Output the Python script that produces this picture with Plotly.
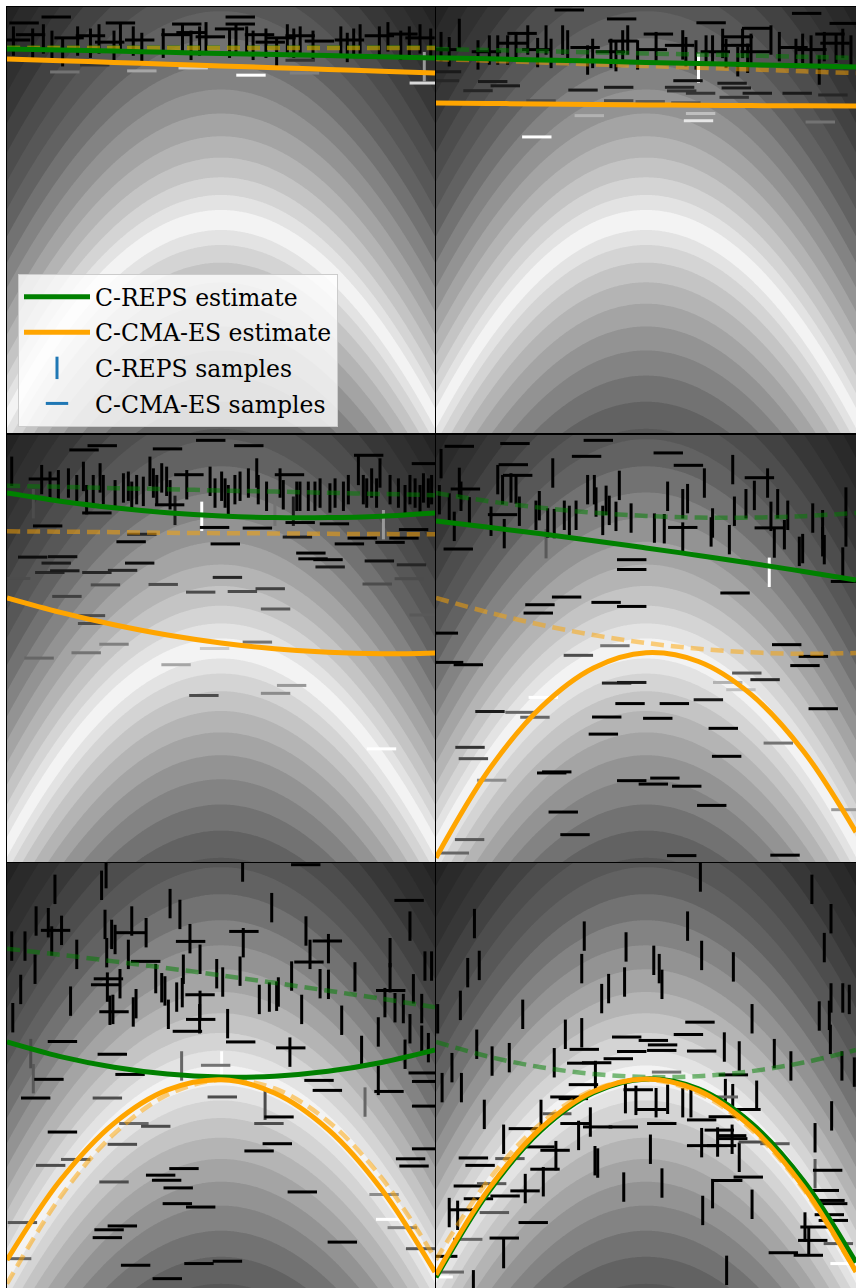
import numpy as np
import plotly.graph_objects as go

# ---------------- data ----------------
# x positions at which the estimated policy curves were read off the picture
CURVE_X = [-1.0, -0.75, -0.5, -0.25, 0.0, 0.25, 0.5, 0.75, 1.0]

INIT_REPS_EST = [0.81, 0.81, 0.81, 0.81, 0.81, 0.81, 0.81, 0.81, 0.81]
INIT_CMAES_EST = [0.808, 0.808, 0.808, 0.808, 0.808, 0.808, 0.808, 0.808, 0.808]

REPS_EST_1 = [0.803, 0.798, 0.793, 0.787, 0.782, 0.777, 0.772, 0.766, 0.761]
CMAES_EST_1 = [0.756, 0.748, 0.740, 0.731, 0.723, 0.715, 0.707, 0.698, 0.690]
REPS_EST_2 = [0.762, 0.757, 0.751, 0.746, 0.740, 0.735, 0.729, 0.724, 0.718]
CMAES_EST_2 = [0.549, 0.547, 0.545, 0.542, 0.540, 0.539, 0.537, 0.536, 0.535]
REPS_EST_3 = [0.728, 0.690, 0.659, 0.636, 0.621, 0.613, 0.613, 0.620, 0.635]
CMAES_EST_3 = [0.237, 0.169, 0.111, 0.063, 0.026, -0.001, -0.018, -0.025, -0.021]
REPS_EST_4 = [0.597, 0.568, 0.537, 0.505, 0.471, 0.436, 0.399, 0.361, 0.321]
CMAES_EST_4 = [-0.980, -0.571, -0.275, -0.091, -0.020, -0.061, -0.215, -0.481, -0.860]
REPS_EST_5 = [0.158, 0.089, 0.039, 0.007, -0.007, -0.003, 0.020, 0.061, 0.120]
CMAES_EST_5 = [-0.868, -0.492, -0.225, -0.068, -0.020, -0.082, -0.253, -0.535, -0.925]
REPS_EST_6 = [-0.950, -0.548, -0.258, -0.081, -0.016, -0.063, -0.223, -0.495, -0.880]
CMAES_EST_6 = [-0.938, -0.536, -0.248, -0.075, -0.016, -0.071, -0.241, -0.525, -0.924]

# samples: (context, parameter, shade 0=black .. 1=white)
REPS_SAMPLES_1 = [
    (-0.97, 0.84, 0), (-0.88, 0.83, 0), (-0.83, 0.85, 0), (-0.79, 0.82, 0), (-0.74, 0.79, 0),
    (-0.67, 0.84, 0), (-0.61, 0.83, 0), (-0.57, 0.85, 0), (-0.50, 0.82, 0), (-0.47, 0.86, 0),
    (-0.41, 0.84, 0), (-0.37, 0.81, 0), (-0.27, 0.83, 0), (-0.18, 0.85, 0), (-0.14, 0.82, 0),
    (-0.10, 0.84, 0), (-0.07, 0.86, 0), (0.04, 0.83, 0), (0.07, 0.85, 0), (0.12, 0.84, 0),
    (0.15, 0.82, 0), (0.21, 0.83, 0), (0.26, 0.79, 0), (0.31, 0.85, 0), (0.34, 0.83, 0),
    (0.37, 0.84, 0), (0.43, 0.82, 0), (0.56, 0.84, 0), (0.59, 0.81, 0), (0.62, 0.83, 0),
    (0.65, 0.85, 0), (0.74, 0.84, 0), (0.78, 0.86, 0), (0.84, 0.82, 0), (0.88, 0.84, 0),
    (0.93, 0.85, 0), (0.98, 0.83, 0), (0.95, 0.72, 0.6),
]
CMAES_SAMPLES_1 = [
    (-0.77, 0.953, 0), (-0.92, 0.925, 0), (-0.47, 0.925, 0), (-0.16, 0.92, 0), (0.09, 0.953, 0),
    (0.09, 0.92, 0), (0.04, 0.897, 0), (0.85, 0.873, 0), (-0.89, 0.87, 0), (-0.71, 0.855, 0),
    (-0.61, 0.865, 0), (-0.38, 0.845, 0), (-0.14, 0.88, 0), (-0.05, 0.86, 0), (0.18, 0.87, 0),
    (0.28, 0.855, 0), (0.37, 0.865, 0), (0.46, 0.84, 0), (0.60, 0.845, 0), (0.93, 0.855, 0),
    (-0.96, 0.845, 0), (-0.52, 0.835, 0), (-0.21, 0.87, 0), (0.23, 0.835, 0), (0.74, 0.865, 0),
    (-0.73, 0.695, 0.45), (-0.37, 0.70, 0.65), (-0.13, 0.714, 0.8), (0.14, 0.68, 1.0),
    (0.39, 0.69, 0.5), (0.95, 0.643, 0.85), (-0.59, 0.728, 0.2), (0.37, 0.75, 0.2),
]
REPS_SAMPLES_2 = [
    (-0.976, 0.814, 0), (-0.937, 0.79, 0), (-0.889, 0.876, 0), (-0.80, 0.775, 0), (-0.746, 0.798, 0),
    (-0.706, 0.798, 0), (-0.659, 0.798, 0), (-0.619, 0.814, 0), (-0.563, 0.845, 0), (-0.516, 0.786, 0),
    (-0.476, 0.845, 0), (-0.452, 0.782, 0), (-0.397, 0.845, 0), (-0.373, 0.822, 0), (-0.278, 0.751, 0),
    (-0.254, 0.782, 0), (-0.167, 0.782, 0), (-0.143, 0.767, 0), (-0.111, 0.822, 0), (-0.087, 0.845, 0),
    (-0.04, 0.775, 0), (0.048, 0.814, 0), (0.175, 0.822, 0), (0.19, 0.79, 0), (0.238, 0.775, 0),
    (0.286, 0.798, 0), (0.317, 0.798, 0), (0.365, 0.829, 0), (0.381, 0.782, 0), (0.437, 0.743, 0),
    (0.46, 0.829, 0), (0.484, 0.759, 0), (0.5, 0.806, 0), (0.595, 0.845, 0), (0.635, 0.814, 0),
    (0.714, 0.782, 0), (0.746, 0.806, 0), (0.786, 0.798, 0), (0.825, 0.704, 0), (0.849, 0.814, 0),
    (0.905, 0.806, 0), (0.937, 0.829, 0), (0.976, 0.798, 0), (0.25, 0.712, 1.0),
]
CMAES_SAMPLES_2 = [
    (-0.365, 0.986, 0), (-0.116, 0.944, 0), (0.31, 0.926, 0), (0.765, 0.97, 0), (0.944, 0.923, 0),
    (0.527, 0.90, 0), (0.059, 0.873, 0), (-0.59, 0.876, 0), (0.876, 0.873, 0), (0.44, 0.86, 0),
    (-0.97, 0.80, 0), (-0.76, 0.79, 0), (-0.63, 0.83, 0), (-0.52, 0.80, 0), (-0.29, 0.81, 0),
    (-0.17, 0.79, 0), (-0.11, 0.84, 0), (0.03, 0.80, 0), (0.16, 0.82, 0), (0.33, 0.79, 0),
    (0.43, 0.82, 0), (0.52, 0.79, 0), (0.70, 0.81, 0), (0.79, 0.80, 0), (0.90, 0.83, 0),
    (-0.95, 0.696, 0.1), (-0.96, 0.654, 0.15), (-0.73, 0.65, 0.1), (-0.80, 0.607, 0.15),
    (-0.67, 0.63, 0.1), (-0.30, 0.61, 0.1), (-0.13, 0.623, 0.1), (0.16, 0.623, 0.15),
    (0.17, 0.606, 0.2), (0.26, 0.595, 0.2), (0.20, 0.654, 0.05), (0.41, 0.642, 0.1),
    (0.43, 0.62, 0.1), (0.53, 0.595, 0.1), (0.42, 0.576, 0.2), (0.72, 0.595, 0.1),
    (0.89, 0.587, 0.15), (-0.5, 0.56, 0.3), (-0.13, 0.56, 0.3), (0.02, 0.556, 0.35),
    (0.19, 0.55, 0.3), (-0.27, 0.49, 0.7), (0.26, 0.50, 0.75), (0.25, 0.466, 0.9),
    (-0.52, 0.39, 1.0), (0.83, 0.46, 0.45),
]
REPS_SAMPLES_3 = [
    (-0.978, 0.83, 0), (-0.877, 0.678, 0.3), (-0.838, 0.791, 0), (-0.799, 0.76, 0), (-0.76, 0.767, 0),
    (-0.713, 0.775, 0), (-0.674, 0.744, 0), (-0.643, 0.806, 0), (-0.628, 0.697, 0), (-0.597, 0.744, 0),
    (-0.565, 0.799, 0), (-0.55, 0.744, 0), (-0.495, 0.72, 0), (-0.456, 0.752, 0), (-0.433, 0.76, 0),
    (-0.417, 0.713, 0), (-0.394, 0.744, 0), (-0.363, 0.736, 0), (-0.332, 0.83, 0), (-0.316, 0.775, 0),
    (-0.30, 0.744, 0), (-0.277, 0.799, 0), (-0.254, 0.783, 0), (-0.238, 0.72, 0), (-0.215, 0.647, 0.1),
    (-0.16, 0.767, 0), (-0.09, 0.619, 1.0), (-0.051, 0.783, 0), (-0.028, 0.728, 0), (0.003, 0.76, 0),
    (0.019, 0.728, 0), (0.034, 0.697, 0), (0.065, 0.744, 0), (0.089, 0.76, 0), (0.128, 0.775, 0),
    (0.167, 0.822, 0), (0.174, 0.744, 0), (0.213, 0.713, 0), (0.252, 0.643, 0.45), (0.276, 0.775, 0),
    (0.291, 0.72, 0), (0.338, 0.643, 0.1), (0.354, 0.713, 0), (0.369, 0.713, 0), (0.408, 0.713, 0),
    (0.439, 0.713, 0), (0.463, 0.728, 0), (0.509, 0.705, 0), (0.533, 0.728, 0), (0.572, 0.713, 0),
    (0.595, 0.744, 0), (0.642, 0.834, 0), (0.665, 0.744, 0), (0.681, 0.728, 0), (0.704, 0.775, 0),
    (0.727, 0.728, 0), (0.743, 0.822, 0), (0.759, 0.58, 0.6), (0.79, 0.744, 0), (0.829, 0.728, 0),
    (0.86, 0.697, 0), (0.883, 0.744, 0), (0.907, 0.728, 0), (0.93, 0.697, 0), (0.946, 0.752, 0),
    (0.969, 0.728, 0), (0.984, 0.744, 0),
]
CMAES_SAMPLES_3 = [
    (-0.048, 0.975, 0), (-0.555, 0.95, 0), (-0.64, 0.93, 0), (-0.25, 0.935, 0), (0.13, 0.95, 0),
    (0.69, 0.905, 0), (0.96, 0.866, 0), (-0.15, 0.814, 0), (0.32, 0.814, 0), (-0.83, 0.794, 0),
    (-0.24, 0.673, 0), (-0.58, 0.635, 0), (-0.03, 0.567, 0), (0.17, 0.564, 0), (0.37, 0.59, 0),
    (0.53, 0.584, 0), (0.90, 0.557, 0), (-0.81, 0.574, 0), (-0.37, 0.535, 0.15), (-0.42, 0.50, 0),
    (0.02, 0.49, 0), (0.60, 0.49, 0), (0.66, 0.517, 0), (0.79, 0.497, 0), (0.855, 0.517, 0),
    (0.357, 0.522, 0.1), (0.42, 0.447, 0), (0.43, 0.42, 0), (0.50, 0.416, 0), (0.51, 0.382, 0.1),
    (0.74, 0.41, 0.05), (0.89, 0.392, 0.15), (0.88, 0.327, 0.3), (-0.88, 0.428, 0.05),
    (-0.74, 0.43, 0.05), (-0.77, 0.40, 0.1), (-0.38, 0.40, 0.05), (-0.46, 0.366, 0.15),
    (-0.80, 0.356, 0.15), (-0.73, 0.364, 0.1), (-0.58, 0.356, 0.15), (-0.96, 0.328, 0.3),
    (-0.54, 0.298, 0.3), (-0.27, 0.30, 0.3), (0.03, 0.333, 0.15), (-0.095, 0.264, 0.3),
    (0.10, 0.267, 0.3), (0.23, 0.28, 0.25), (0.73, 0.302, 0.3), (-0.72, 0.244, 0.25),
    (0.255, 0.185, 0.35), (0.95, 0.157, 0.35), (-0.61, 0.154, 0.3), (-0.60, 0.117, 0.3),
    (-0.50, 0.02, 0.5), (-0.63, -0.02, 0.45), (-0.85, -0.045, 0.4), (-0.21, -0.076, 0.65),
    (-0.03, 0.0, 0.8), (0.17, 0.03, 0.45), (0.33, -0.173, 0.6), (0.255, -0.21, 0.55),
    (-0.08, -0.22, 0.3), (0.75, -0.47, 1.0),
]
REPS_SAMPLES_4 = [
    (-0.976, 0.866, 0), (-0.984, 0.697, 0), (-0.937, 0.658, 0), (-0.913, 0.572, 0), (-0.889, 0.778, 0),
    (-0.881, 0.713, 0), (-0.841, 0.64, 0), (-0.738, 0.596, 0), (-0.706, 0.791, 0), (-0.683, 0.744, 0),
    (-0.675, 0.538, 0), (-0.643, 0.752, 0), (-0.619, 0.747, 0), (-0.603, 0.643, 0), (-0.524, 0.624, 0),
    (-0.508, 0.669, 0), (-0.476, 0.491, 0.35), (-0.468, 0.588, 0), (-0.444, 0.822, 0), (-0.437, 0.585, 0),
    (-0.389, 0.624, 0), (-0.365, 0.60, 0), (-0.333, 0.624, 0), (-0.278, 0.744, 0), (-0.246, 0.744, 0),
    (-0.238, 0.686, 0), (-0.206, 0.60, 0), (-0.19, 0.694, 0), (-0.175, 0.647, 0), (-0.143, 0.619, 0),
    (-0.127, 0.764, 0), (-0.071, 0.611, 0), (0.04, 0.564, 0), (0.087, 0.561, 0), (0.103, 0.713, 0),
    (0.175, 0.678, 0), (0.175, 0.522, 0), (0.198, 0.702, 0), (0.278, 0.775, 0), (0.31, 0.546, 0),
    (0.317, 0.588, 0), (0.397, 0.51, 0), (0.413, 0.838, 0), (0.421, 0.643, 0), (0.476, 0.678, 0),
    (0.516, 0.717, 0), (0.579, 0.775, 0), (0.587, 0.357, 1.0), (0.595, 0.619, 0), (0.611, 0.494, 0),
    (0.627, 0.678, 0), (0.659, 0.533, 0), (0.675, 0.624, 0), (0.73, 0.455, 0), (0.746, 0.468, 0),
    (0.794, 0.611, 0), (0.841, 0.58, 0), (0.841, 0.50, 0), (0.849, 0.463, 0), (0.937, 0.405, 0),
    (0.952, 0.686, 0), (0.952, 0.546, 0),
]
CMAES_SAMPLES_4 = [
    (-0.889, 0.947, 0), (-0.624, 0.96, 0), (-0.227, 0.975, 0), (-0.283, 0.90, 0), (0.106, 0.916, 0),
    (0.202, 0.858, 0), (-0.632, 0.861, 0), (-0.611, 0.811, 0), (-0.86, 0.747, 0), (0.54, 0.80, 0),
    (-0.683, 0.627, 0), (0.587, 0.565, 0), (0.175, 0.567, 0), (0.95, 0.314, 0), (-0.894, 0.466, 0),
    (-0.068, 0.416, 0), (-0.068, 0.37, 0), (0.424, 0.26, 0), (-0.378, 0.241, 0), (-0.505, 0.205, 0),
    (-0.513, 0.166, 0), (-0.19, 0.216, 0), (-0.068, 0.197, 0), (-0.965, 0.072, 0), (-0.94, -0.065, 0),
    (-0.846, -0.076, 0), (-0.148, 0.013, 0.45), (-0.322, -0.032, 0.3), (0.67, 0.018, 0),
    (0.797, -0.037, 0), (0.757, -0.08, 0), (0.48, -0.115, 0.35), (0.567, -0.146, 0.15),
    (0.389, -0.159, 0.7), (0.452, -0.193, 0.75), (-0.14, -0.162, 0.15), (-0.068, -0.159, 0.1),
    (-0.489, -0.229, 1.0), (-0.743, -0.295, 0.1), (-0.6, -0.299, 0.4), (-0.529, -0.322, 0.4),
    (-0.076, -0.258, 0), (0.135, -0.258, 0), (0.297, -0.24, 0.1), (-0.187, -0.321, 0),
    (0.056, -0.327, 0), (0.844, -0.282, 0), (0.368, -0.374, 0), (-0.203, -0.401, 0),
    (0.63, -0.443, 0.45), (-0.838, -0.463, 0.2), (-0.822, -0.516, 0.3), (0.384, -0.505, 0),
    (-0.735, -0.617, 0.55), (-0.449, -0.583, 0), (-0.425, -0.578, 0), (-0.068, -0.619, 0),
    (0.035, -0.635, 0), (0.09, -0.607, 0), (0.194, -0.645, 0), (0.313, -0.735, 0),
    (-0.394, -0.766, 0), (-0.338, -0.872, 0), (-0.84, -0.895, 0.35), (-0.913, -0.958, 0.4),
    (0.17, -0.97, 0), (0.662, -0.968, 0), (0.952, -0.755, 0.6),
]
REPS_SAMPLES_5 = [
    (-0.537, 0.95, 0), (-0.558, 0.895, 0), (-0.776, 0.876, 0), (0.101, 0.981, 0), (-0.238, 0.809, 0),
    (-0.192, 0.758, 0), (0.237, 0.79, 0), (-0.864, 0.727, 0), (-0.807, 0.719, 0), (-0.791, 0.633, 0),
    (-0.745, 0.683, 0), (-0.542, 0.711, 0), (-0.511, 0.664, 0), (-0.495, 0.64, 0), (-0.417, 0.727, 0),
    (-0.35, 0.672, 0), (-0.978, 0.609, 0), (-0.916, 0.609, 0), (-0.674, 0.57, 0), (-0.534, 0.578, 0),
    (-0.433, 0.57, 0), (-0.145, 0.644, 0), (-0.098, 0.547, 0), (-0.176, 0.50, 0), (-0.02, 0.479, 0),
    (0.008, 0.44, 0), (0.089, 0.491, 0), (0.104, 0.625, 0), (0.397, 0.68, 0), (0.416, 0.57, 0),
    (0.502, 0.597, 0), (0.33, 0.468, 0), (0.463, 0.432, 0), (0.502, 0.429, 0), (0.626, 0.464, 0),
    (0.79, 0.578, 0), (0.79, 0.46, 0), (0.883, 0.703, 0), (0.953, 0.515, 0), (0.984, 0.515, 0),
    (0.899, 0.408, 0), (0.766, 0.343, 0), (0.813, 0.319, 0), (0.852, 0.315, 0), (0.938, 0.315, 0),
    (-0.869, 0.50, 0), (-0.936, 0.405, 0), (-0.703, 0.35, 0), (-0.973, 0.272, 0), (-0.531, 0.416, 0),
    (-0.472, 0.432, 0), (-0.519, 0.307, 0), (-0.505, 0.311, 0), (-0.41, 0.299, 0), (-0.397, 0.338, 0),
    (-0.305, 0.456, 0), (-0.277, 0.413, 0), (-0.262, 0.398, 0), (-0.246, 0.288, 0), (-0.207, 0.369, 0),
    (-0.181, 0.39, 0), (-0.098, 0.33, 0), (-0.1, 0.267, 0), (0.031, 0.244, 0), (0.179, 0.358, 0),
    (0.226, 0.369, 0), (0.26, 0.373, 0), (0.268, 0.393, 0), (0.377, 0.311, 0), (0.564, 0.26, 0),
    (0.735, 0.205, 0), (0.657, 0.118, 0), (0.86, 0.10, 0), (0.883, 0.22, 0), (0.938, 0.166, 0),
    (0.969, 0.131, 0), (-0.889, 0.103, 0.3), (-0.877, -0.015, 0.35), (-0.184, 0.045, 0.4),
    (0.003, 0.045, 1.0), (0.322, 0.11, 0), (0.735, -0.023, 0), (0.206, -0.14, 0.3), (0.673, -0.125, 0.4),
]
CMAES_SAMPLES_5 = [
    (0.396, 0.992, 0), (0.879, 0.824, 0), (-0.773, 0.683, 0), (-0.422, 0.672, 0), (0.107, 0.678, 0),
    (-0.142, 0.631, 0), (0.497, 0.633, 0), (-0.352, 0.537, 0), (0.411, 0.534, 0), (-0.539, 0.427, 0),
    (-0.526, 0.455, 0), (-0.098, 0.38, 0), (0.793, 0.40, 0), (-0.5, 0.30, 0), (-0.095, 0.264, 0),
    (-0.157, 0.208, 0), (-0.741, 0.16, 0), (-0.508, 0.10, 0), (0.092, 0.158, 0), (0.326, 0.13, 0),
    (-0.025, 0.048, 0.45), (-0.425, 0.005, 0), (-0.804, -0.018, 0), (0.945, 0.012, 0),
    (0.961, -0.028, 0), (0.458, -0.023, 0), (0.497, -0.07, 0), (0.785, -0.075, 0), (-0.866, -0.106, 0),
    (-0.531, -0.106, 0.3), (0.006, -0.101, 0.3), (0.961, -0.144, 0), (0.271, -0.195, 0),
    (0.224, -0.226, 0.3), (-0.407, -0.226, 0.4), (-0.305, -0.239, 0.3), (-0.461, -0.324, 0.3),
    (0.263, -0.321, 0), (0.178, -0.355, 0), (-0.741, -0.266, 0), (-0.679, -0.395, 0.35),
    (-0.796, -0.423, 0.3), (0.886, -0.392, 0), (0.902, -0.426, 0), (0.961, -0.345, 0),
    (-0.173, -0.438, 0), (-0.282, -0.469, 0), (-0.254, -0.493, 0), (-0.5, -0.501, 0.3),
    (-0.2, -0.529, 0), (0.38, -0.548, 0), (0.762, -0.56, 0.55), (-0.204, -0.603, 0),
    (-0.095, -0.619, 0), (0.793, -0.677, 1.0), (0.847, -0.716, 0.5), (-0.928, -0.692, 0.35),
    (-0.461, -0.708, 0), (-0.523, -0.726, 0), (-0.531, -0.763, 0), (0.567, -0.784, 0),
    (0.933, -0.815, 0.35), (-0.955, -0.862, 0.4), (-0.399, -0.893, 0), (-0.103, -0.885, 0),
    (0.03, -0.874, 0), (-0.251, -0.956, 0),
]
REPS_SAMPLES_6 = [
    (0.259, 0.934, 0), (0.79, 0.876, 0), (-0.817, 0.715, 0), (0.198, 0.703, 0), (0.881, 0.738, 0),
    (-0.294, 0.656, 0), (-0.095, 0.605, 0), (0.849, 0.602, 0), (-0.794, 0.518, 0), (-0.849, 0.484, 0),
    (-0.306, 0.503, 0), (0.037, 0.542, 0), (0.063, 0.503, 0), (0.076, 0.429, 0), (0.265, 0.565, 0),
    (0.416, 0.511, 0), (-0.178, 0.409, 0), (-0.211, 0.362, 0), (-0.102, 0.44, 0), (-0.884, 0.33, 0),
    (-0.992, 0.267, 0), (-0.587, 0.288, 0), (0.505, 0.267, 0), (0.881, 0.365, 0), (0.937, 0.365, 0),
    (0.968, 0.358, 0), (0.873, 0.283, 0), (0.825, 0.28, 0), (0.878, 0.17, 0), (-0.384, 0.194, 0),
    (-0.306, 0.201, 0), (-0.806, 0.147, 0), (-0.924, 0.037, 0), (-0.971, -0.057, 0), (-0.879, -0.057, 0),
    (-0.733, 0.068, 0), (-0.651, 0.084, 0), (-0.437, 0.06, 0), (-0.241, 0.0, 0), (0.373, 0.134, 0),
    (0.444, 0.092, 0), (0.611, 0.103, 0), (0.69, 0.045, 0), (0.933, 0.045, 0), (0.992, 0.016, 0),
    (-0.098, -0.109, 0), (-0.048, -0.117, 0), (0.048, -0.128, 0), (0.103, -0.112, 0), (0.175, -0.128, 0),
    (0.214, -0.128, 0), (0.378, -0.085, 0), (0.413, -0.109, 0), (0.527, -0.093, 0), (-0.77, -0.183, 0),
    (-0.5, -0.183, 0), (-0.678, -0.30, 0), (-0.321, -0.282, 0), (-0.265, -0.219, 0), (0.021, -0.347, 0),
    (0.265, -0.316, 0), (0.341, -0.313, 0), (0.41, -0.30, 0), (0.444, -0.385, 0), (0.884, -0.19, 0),
    (0.805, -0.293, 0), (-0.429, -0.377, 0), (-0.243, -0.401, 0), (-0.23, -0.412, 0), (-0.489, -0.5, 0),
    (-0.575, -0.532, 0), (-0.106, -0.525, 0), (0.076, -0.506, 0), (0.317, -0.556, 0), (0.27, -0.635, 0),
    (0.505, -0.606, 0), (0.805, -0.462, 0.35), (-0.937, -0.645, 0), (-0.897, -0.658, 0), (0.757, -0.713, 0),
    (0.775, -0.779, 0), (-0.678, -0.838, 0), (0.384, -0.917, 0), (-0.822, -0.985, 0),
]
CMAES_SAMPLES_6 = [
    (0.257, 0.251, 0), (-0.092, 0.181, 0), (-0.068, 0.113, 0), (0.035, 0.165, 0), (0.079, 0.144, 0),
    (0.075, 0.118, 0), (0.202, 0.193, 0), (0.265, 0.115, 0), (-0.294, 0.123, 0), (-0.132, 0.079, 0),
    (-0.306, 0.058, 0), (-0.235, 0.06, 0), (-0.298, -0.043, 0), (0.098, 0.016, 0.45), (0.416, 0.003, 0),
    (-0.386, -0.101, 0), (-0.346, -0.109, 0), (-0.037, -0.067, 0), (0.027, -0.16, 0), (0.368, -0.101, 0.4),
    (0.476, -0.16, 0), (0.265, -0.209, 0), (0.368, -0.194, 0), (0.349, -0.257, 0), (0.408, -0.283, 0),
    (0.413, -0.297, 0), (0.511, -0.313, 0.3), (0.614, -0.321, 0.35), (0.265, -0.33, 0), (0.36, -0.33, 0),
    (-0.584, -0.25, 0), (-0.425, -0.18, 0.35), (-0.338, -0.226, 0), (-0.23, -0.242, 0), (-0.108, -0.242, 0),
    (0.075, -0.226, 0), (-0.505, -0.336, 0), (-0.433, -0.352, 0), (-0.822, -0.388, 0), (-0.79, -0.423, 0),
    (-0.648, -0.391, 0.35), (-0.481, -0.441, 0), (-0.846, -0.52, 0), (-0.735, -0.509, 0.35),
    (-0.671, -0.567, 0), (-0.576, -0.543, 0), (-0.798, -0.58, 0), (-0.873, -0.632, 0),
    (-0.722, -0.645, 0.35), (-0.537, -0.692, 0), (-0.675, -0.765, 0), (-0.849, -0.771, 0.4),
    (-0.968, -0.851, 0), (0.389, -0.494, 0), (0.487, -0.478, 0), (0.865, -0.446, 0), (0.849, -0.541, 0),
    (0.876, -0.588, 0), (0.889, -0.603, 0), (0.873, -0.655, 0), (0.892, -0.682, 0), (0.805, -0.713, 0),
    (0.794, -0.776, 0), (0.916, -0.791, 0.35), (0.654, -0.834, 0), (0.773, -0.846, 0),
    (0.948, -0.885, 1.0), (-0.937, -0.925, 0.4), (-0.99, -0.948, 1.0),
]

# reward landscape: optimal parameter follows a parabola in the context
RIDGE_CURVATURE = 0.93
LANDSCAPE_EXPONENT = 0.758
LANDSCAPE_SCALE = 10.15

# ---------------- figure ----------------
W, H = 856, 1288
GREEN = "#008000"
ORANGE = "#FFA500"

col_domains = [[7 / W, 435 / W], [436 / W, 1.0]]
row_domains = [[1 - 433 / H, 1 - 7 / H], [1 - 862 / H, 1 - 435 / H], [0.0, 1 - 863 / H]]

reps_est = [REPS_EST_1, REPS_EST_2, REPS_EST_3, REPS_EST_4, REPS_EST_5, REPS_EST_6]
cmaes_est = [CMAES_EST_1, CMAES_EST_2, CMAES_EST_3, CMAES_EST_4, CMAES_EST_5, CMAES_EST_6]
reps_prev = [INIT_REPS_EST] + reps_est[:-1]
cmaes_prev = [INIT_CMAES_EST] + cmaes_est[:-1]
reps_samples = [REPS_SAMPLES_1, REPS_SAMPLES_2, REPS_SAMPLES_3, REPS_SAMPLES_4, REPS_SAMPLES_5, REPS_SAMPLES_6]
cmaes_samples = [CMAES_SAMPLES_1, CMAES_SAMPLES_2, CMAES_SAMPLES_3, CMAES_SAMPLES_4, CMAES_SAMPLES_5, CMAES_SAMPLES_6]

gx = np.linspace(-1, 1, 261)
gy = np.linspace(-1, 1, 261)
GX, GY = np.meshgrid(gx, gy)
Z = -LANDSCAPE_SCALE * np.abs(GY + RIDGE_CURVATURE * GX ** 2) ** LANDSCAPE_EXPONENT

# grey ramp of the filled contour bands (band 0 at the ridge is brightest)
BAND_GREYS = [[0.0, "rgb(22,22,22)"], [1 / 19, "rgb(28,28,28)"], [5 / 19, "rgb(55,55,55)"],
              [9 / 19, "rgb(98,98,98)"], [14 / 19, "rgb(180,180,180)"], [18 / 19, "rgb(243,243,243)"],
              [1.0, "rgb(250,250,250)"]]


def gray(s):
    v = int(round(255 * s))
    return f"rgb({v},{v},{v})"


fig = go.Figure()
layout_axes = {}
for i in range(6):
    r, c = divmod(i, 2)
    xa = "x" if i == 0 else f"x{i + 1}"
    ya = "y" if i == 0 else f"y{i + 1}"
    xkey = "xaxis" if i == 0 else f"xaxis{i + 1}"
    ykey = "yaxis" if i == 0 else f"yaxis{i + 1}"
    axis_style = dict(range=[-1, 1], showticklabels=False, ticks="", showgrid=False,
                      zeroline=False, showline=True, mirror=True, linecolor="black",
                      linewidth=1, fixedrange=True)
    layout_axes[xkey] = dict(domain=col_domains[c], anchor=ya, **axis_style)
    layout_axes[ykey] = dict(domain=row_domains[r], anchor=xa, **axis_style)

    fig.add_trace(go.Contour(
        x=gx, y=gy, z=Z, xaxis=xa, yaxis=ya, showscale=False, hoverinfo="skip",
        colorscale=BAND_GREYS,
        contours=dict(start=-18, end=0, size=1, coloring="fill"),
        line=dict(width=0),
    ))

    rs = reps_samples[i]
    fig.add_trace(go.Scatter(
        x=[p[0] for p in rs], y=[p[1] for p in rs], xaxis=xa, yaxis=ya, mode="markers",
        showlegend=False, hoverinfo="skip",
        marker=dict(symbol="line-ns", size=21, color=[gray(p[2]) for p in rs],
                    line=dict(width=3, color=[gray(p[2]) for p in rs])),
    ))
    cs = cmaes_samples[i]
    fig.add_trace(go.Scatter(
        x=[p[0] for p in cs], y=[p[1] for p in cs], xaxis=xa, yaxis=ya, mode="markers",
        showlegend=False, hoverinfo="skip",
        marker=dict(symbol="line-ew", size=21, color=[gray(p[2]) for p in cs],
                    line=dict(width=3, color=[gray(p[2]) for p in cs])),
    ))

    fig.add_trace(go.Scatter(
        x=CURVE_X, y=reps_prev[i], xaxis=xa, yaxis=ya, mode="lines", showlegend=False,
        hoverinfo="skip", opacity=0.5,
        line=dict(color=GREEN, width=4.5, dash="13px,7px", shape="spline"),
    ))
    fig.add_trace(go.Scatter(
        x=CURVE_X, y=cmaes_prev[i], xaxis=xa, yaxis=ya, mode="lines", showlegend=False,
        hoverinfo="skip", opacity=0.5,
        line=dict(color=ORANGE, width=4.5, dash="13px,7px", shape="spline"),
    ))
    fig.add_trace(go.Scatter(
        x=CURVE_X, y=reps_est[i], xaxis=xa, yaxis=ya, mode="lines",
        name="C-REPS estimate", showlegend=(i == 0), legendgroup="a", legendrank=1,
        hoverinfo="skip", line=dict(color=GREEN, width=5, shape="spline"),
    ))
    fig.add_trace(go.Scatter(
        x=CURVE_X, y=cmaes_est[i], xaxis=xa, yaxis=ya, mode="lines",
        name="C-CMA-ES estimate", showlegend=(i == 0), legendgroup="b", legendrank=2,
        hoverinfo="skip", line=dict(color=ORANGE, width=5, shape="spline"),
    ))

# legend-only entries for the sample markers
fig.add_trace(go.Scatter(
    x=[None], y=[None], mode="markers", name="C-REPS samples", legendgroup="c", legendrank=3,
    marker=dict(symbol="line-ns", size=16, color="#1f77b4", line=dict(width=3, color="#1f77b4")),
))
fig.add_trace(go.Scatter(
    x=[None], y=[None], mode="markers", name="C-CMA-ES samples", legendgroup="d", legendrank=4,
    marker=dict(symbol="line-ew", size=16, color="#1f77b4", line=dict(width=3, color="#1f77b4")),
))

fig.update_layout(
    width=W, height=H, margin=dict(l=0, r=0, t=0, b=0),
    paper_bgcolor="white", plot_bgcolor="white",
    showlegend=True,
    legend=dict(x=18 / W, y=1 - 274 / H, xanchor="left", yanchor="top",
                bgcolor="rgba(255,255,255,0.8)", bordercolor="#cccccc", borderwidth=1,
                font=dict(family="DejaVu Serif", size=23.5, color="black"),
                tracegroupgap=2, itemwidth=66),
    **layout_axes,
)

fig.write_html("out.html")
